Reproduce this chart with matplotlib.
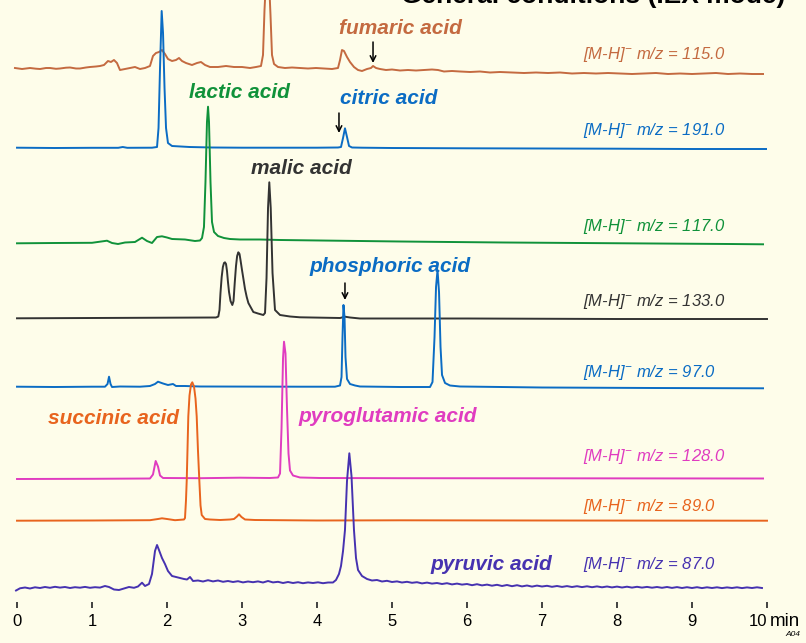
import matplotlib
matplotlib.use("Agg")
import matplotlib.pyplot as plt
import numpy as np

# ---- chromatogram traces (time in min, signal in arbitrary units above baseline)
fumaric_t = [-0.027, 0.067, 0.173, 0.253, 0.307, 0.387, 0.44, 0.52, 0.573, 0.653, 0.707, 0.787, 0.84, 0.92,
             0.973, 1.053, 1.107, 1.16, 1.213, 1.253, 1.293, 1.333, 1.373, 1.44, 1.507, 1.573, 1.64, 1.707,
             1.773, 1.813, 1.853, 1.893, 1.933, 1.973, 2.013, 2.067, 2.12, 2.16, 2.2, 2.253, 2.333, 2.4, 2.453,
             2.507, 2.573, 2.68, 2.787, 2.893, 3.0, 3.107, 3.187, 3.253, 3.28, 3.3, 3.32, 3.36, 3.38, 3.4,
             3.427, 3.48, 3.573, 3.667, 3.773, 3.88, 3.987, 4.093, 4.2, 4.28, 4.307, 4.333, 4.36, 4.4, 4.44,
             4.493, 4.547, 4.6, 4.667, 4.72, 4.747, 4.787, 4.84, 4.92, 5.0, 5.107, 5.213, 5.32, 5.427, 5.533,
             5.613, 5.693, 5.8, 5.907, 6.04, 6.173, 6.307, 6.44, 6.6, 6.76, 6.92, 7.08, 7.24, 7.4, 7.56, 7.72,
             7.88, 8.04, 8.2, 8.36, 8.52, 8.68, 8.84, 9.0, 9.16, 9.32, 9.48, 9.64, 9.8, 9.947]
fumaric_i = [2, 1, 2, 1.3, 1, 2, 2, 1.2, 1.5, 2.3, 2.5, 1.5, 1.5, 2.5,
             3, 3.5, 4, 5, 9, 8, 10, 7, 0, 1, 2, 3, 1, 2,
             4, 14, 17, 18, 20, 16, 11, 9, 10, 12, 9, 7, 5, 7, 8,
             5, 3, 3, 4, 3, 3, 2, 3, 4, 15, 60, 90, 90, 55, 15,
             6, 3, 2, 2.5, 2, 1.5, 2, 1.5, 1, 2, 10, 20, 19, 13, 8,
             3, 0, -1, 1, 2, 4, 2, 1, 0, 0.5, -0.5, 0, -0.5, 0, 0.5,
             0, -1.5, -1, -1.5, -2, -1.5, -2.5, -2, -2.5, -3, -2.5, -3, -2.5, -3.5, -3, -3.5,
             -3, -3.5, -4, -3.5, -3, -4, -3.5, -4, -3.5, -3, -4, -3.5, -4, -4]

citric_t = [0.0, 0.5, 1.0, 1.35, 1.41, 1.47, 1.8, 1.867, 1.887, 1.907, 1.929, 1.947, 1.967, 1.987, 2.013,
            2.067, 2.3, 2.6, 3.0, 3.5, 4.0, 4.28, 4.32, 4.347, 4.373, 4.4, 4.427, 4.467, 4.6, 5.0, 6.0, 7.0,
            8.0, 9.0, 9.987]
citric_i = [0.3, 0, 0.2, 0.2, 1, 0.2, 0.3, 1, 20, 80, 137, 115, 60, 20, 5,
            2, 1, 0.5, 0.3, 0.3, 0.3, 0.5, 1, 10, 19.7, 11, 2, 0.5, 0.3, 0, -0.3, -0.5,
            -0.7, -1, -1]

lactic_t = [0.0, 0.5, 1.0, 1.2, 1.267, 1.347, 1.44, 1.573, 1.667, 1.733, 1.8, 1.867, 1.933, 2.0, 2.067,
            2.24, 2.373, 2.44, 2.467, 2.493, 2.513, 2.533, 2.547, 2.56, 2.58, 2.6, 2.627, 2.68, 2.76,
            2.84, 2.973, 3.24, 3.507, 4.04, 4.573, 5.107, 5.5, 6.5, 7.5, 8.5, 9.5, 9.947]
lactic_i = [-1.3, -1, -0.8, 1.3, -1, -2, -0.5, 0, 4.3, 1, -1, 5, 5.7, 4.5, 3,
            2.5, 1, 1.5, 4, 15, 60, 120, 135.3, 120, 60, 20, 10, 6, 4,
            3, 2.5, 2.5, 2, 1.5, 1, 0.5, 0.2, -0.5, -1, -1.5, -2, -2.3]

malic_t = [0.0, 1.0, 2.0, 2.653, 2.684, 2.7, 2.713, 2.729, 2.745, 2.76, 2.773, 2.787, 2.8, 2.813, 2.827,
           2.847, 2.871, 2.887, 2.903, 2.92, 2.935, 2.951, 2.967, 2.98, 3.0, 3.017, 3.04, 3.063, 3.085,
           3.107, 3.151, 3.213, 3.284, 3.307, 3.327, 3.347, 3.364, 3.383, 3.407, 3.44, 3.507, 3.64,
           3.773, 4.307, 4.373, 4.44, 4.573, 6.0, 8.0, 10.0]
malic_i = [-0.3, 0, 0.3, 0.5, 1.5, 8, 25, 41, 51, 55, 55.7, 54, 47, 36, 26,
           17, 13, 17, 35, 52, 62, 65.7, 64, 58, 48, 40, 29, 21, 15,
           12, 6, 4.5, 3, 5, 40, 110, 135.7, 110, 45, 8, 3, 1.5,
           0.7, 0, 1.3, 0.5, -0.5, -0.5, -1, -1]

phosphoric_t = [0.0, 0.5, 1.0, 1.173, 1.207, 1.227, 1.247, 1.267, 1.373, 1.64, 1.773, 1.84, 1.88, 1.947,
                2.013, 2.08, 2.12, 2.24, 2.44, 3.773, 4.24, 4.307, 4.327, 4.34, 4.353, 4.367, 4.38, 4.4,
                4.44, 4.507, 4.573, 5.107, 5.507, 5.54, 5.567, 5.587, 5.607, 5.627, 5.647, 5.667, 5.707,
                5.773, 5.907, 7.0, 8.5, 9.947]
phosphoric_i = [0.3, 0, 0.3, 0.3, 3, 10.3, 3, 0, 0.5, 0.3, 1, 3, 5.3, 3.5,
                2, 3, 1, 1, 0.5, 0.3, 0.3, 1.5, 10, 50, 82, 70, 30, 8,
                3, 1.5, 0.5, 0, 0, 5, 50, 100, 117, 95, 40, 12, 4,
                1.5, 0.5, -0.5, -1, -1.3]

pyroglutamic_t = [0.0, 1.0, 1.773, 1.813, 1.849, 1.88, 1.907, 1.947, 2.44, 2.973, 3.373, 3.48, 3.507, 3.527,
                  3.547, 3.56, 3.58, 3.6, 3.62, 3.64, 3.68, 3.773, 4.04, 5.107, 7.0, 9.947]
pyroglutamic_i = [-0.5, -0.3, 0, 4, 17.5, 12, 3, 0.5, 0.3, 0.8, 0.5, 1, 5, 50,
                  120, 136.8, 125, 70, 25, 8, 3, 1, 0.5, 0.3, 0.2, 0]

succinic_t = [0.0, 1.0, 1.773, 1.88, 1.933, 2.0, 2.107, 2.227, 2.24, 2.253, 2.263, 2.273, 2.284, 2.3, 2.32,
              2.337, 2.36, 2.38, 2.396, 2.413, 2.431, 2.447, 2.463, 2.507, 2.573, 2.707, 2.84, 2.893,
              2.933, 2.96, 2.993, 3.04, 3.173, 4.0, 5.107, 7.0, 10.0]
succinic_i = [-0.2, 0, 0.3, 1.5, 2.2, 1.5, 0.3, 1, 2.5, 20, 40, 70, 104, 125, 136,
              138.2, 134, 122, 104, 70, 40, 15, 5.5, 1.5, 1, 0.5, 1, 1.5,
              4, 6.2, 3.5, 1, 0.5, 0, 0.2, 0, -0.2]

pyruvic_t = [-0.013, 0.04, 0.107, 0.173, 0.24, 0.307, 0.373, 0.44, 0.507, 0.573, 0.64, 0.707, 0.773, 0.84,
             0.907, 0.973, 1.04, 1.107, 1.173, 1.227, 1.293, 1.36, 1.427, 1.493, 1.56, 1.613, 1.667,
             1.707, 1.76, 1.8, 1.84, 1.867, 1.893, 1.933, 1.973, 2.013, 2.067, 2.12, 2.173, 2.227, 2.267,
             2.307, 2.347, 2.413, 2.48, 2.547, 2.613, 2.68, 2.747, 2.813, 2.88, 2.947, 3.013, 3.08, 3.147,
             3.213, 3.28, 3.347, 3.413, 3.48, 3.547, 3.613, 3.68, 3.747, 3.813, 3.88, 3.947, 4.013, 4.08,
             4.147, 4.213, 4.253, 4.293, 4.32, 4.347, 4.373, 4.4, 4.431, 4.46, 4.493, 4.52, 4.547, 4.6,
             4.667, 4.733, 4.8, 4.867, 4.933, 5.0, 5.067, 5.133, 5.2, 5.267, 5.333, 5.4, 5.467, 5.533,
             5.6, 5.667, 5.733, 5.8, 5.867, 5.933, 6.0, 6.067, 6.133, 6.2, 6.267, 6.333, 6.4, 6.467,
             6.533, 6.6, 6.667, 6.733, 6.8, 6.867, 6.933, 7.0, 7.067, 7.133, 7.2, 7.267, 7.333, 7.4,
             7.467, 7.533, 7.6, 7.667, 7.733, 7.8, 7.867, 7.933, 8.0, 8.067, 8.133, 8.2, 8.267, 8.333,
             8.4, 8.467, 8.533, 8.6, 8.667, 8.733, 8.8, 8.867, 8.933, 9.0, 9.067, 9.133, 9.2, 9.267,
             9.333, 9.4, 9.467, 9.533, 9.6, 9.667, 9.733, 9.8, 9.867, 9.933]
pyruvic_i = [-4.5, -2.3, -1.5, -2.5, -1.3, -2, -1, -1.8, -0.8, -1.6, -1, -2, -1.2, -1.7,
             -0.9, -1.8, -1.2, -1.6, 0, -1, -3.5, -4, -2.5, -1, -1.8, -0.5, 3.3,
             0, 2, 12, 35, 41, 36, 28, 22, 15, 10, 9, 8, 7, 6.5,
             9, 5, 5.5, 4.5, 5.8, 4.6, 5.5, 4.2, 5, 4, 4.8, 3.6, 4.5, 3.8,
             4.6, 3.5, 5, 3.6, 4.2, 3, 4, 3, 3.8, 2.8, 3.6, 3, 3.7, 2.8,
             3.5, 3.5, 6, 12, 20, 35, 56, 105, 132.7, 110, 56, 28, 16, 10,
             7, 5.5, 6, 4.5, 5.2, 4, 4.6, 3.5, 4.2, 3.2, 3.8, 2.6, 3.4, 2.4,
             3, 2, 2.8, 1.6, 2.4, 1.4, 2, 0.8, 1.8, 0.6, 1.4, 0.3, 1.2, 0,
             1, -0.2, 0.8, -0.4, 0.5, -0.6, 0.4, -0.5, 0.2, -0.8, 0, -0.9, -0.1, -1,
             -0.2, -1.1, -0.3, -1.2, -0.4, -1.3, -0.5, -1.4, -0.6, -1.5, -0.7, -1.6, -0.8, -1.6,
             -0.9, -1.7, -1, -1.8, -1, -1.9, -1.1, -2, -1.2, -2, -1.2, -2.1, -1.3, -2,
             -1.3, -2.1, -1.4, -2, -1.3, -2.1, -1.4, -2, -1.3, -2]

compounds = ["fumaric acid", "citric acid", "lactic acid", "malic acid",
             "phosphoric acid", "pyroglutamic acid", "succinic acid", "pyruvic acid"]
mz_values = ["115.0", "191.0", "117.0", "133.0", "97.0", "128.0", "89.0", "87.0"]
x_ticks = [0, 1, 2, 3, 4, 5, 6, 7, 8, 9, 10]

times = [fumaric_t, citric_t, lactic_t, malic_t, phosphoric_t, pyroglutamic_t, succinic_t, pyruvic_t]
signals = [fumaric_i, citric_i, lactic_i, malic_i, phosphoric_i, pyroglutamic_i, succinic_i, pyruvic_i]

# layout (pixel rows of figure) and styles
colors = ["#C46A40", "#0B6CC4", "#10923A", "#333333", "#0B6CC4", "#E03CC0", "#E8641E", "#4632B0"]
baselines = [70, 148, 242, 318, 387, 478.5, 520.5, 586]
mz_y = [55, 130, 226.5, 301.5, 373, 457, 507, 565]
name_pos = [(5.107, 28), (4.953, 99), (2.967, 93), (3.793, 168),
            (4.967, 266), (4.947, 417), (1.287, 418), (6.327, 564)]
arrows = [(4.747, 42, 63), (4.293, 113, 133), (4.373, 283, 300)]

W, H = 806, 643
bg = "#FEFDEA"
fig = plt.figure(figsize=(W / 100, H / 100), dpi=100, facecolor=bg)
ax = fig.add_axes([17 / W, 41 / H, 750 / W, 602 / H])
ax.set_facecolor(bg)
ax.set_xlim(0, 10)
ax.set_ylim(602, 0)
for s in ax.spines.values():
    s.set_visible(False)
ax.set_yticks([])
ax.set_xticks(x_ticks)
ax.tick_params(axis="x", direction="out", length=4, width=1.3, color="#333333",
               labelsize=12, pad=5, labelcolor="black")
for lab in ax.get_xticklabels():
    lab.set_fontfamily("Liberation Sans")
# the "10" label sits left of its tick, to leave room for the unit
ax.get_xticklabels()[-1].set_horizontalalignment("right")

for t, sig, base, c in zip(times, signals, baselines, colors):
    ax.plot(t, base - np.asarray(sig), color=c, lw=1.4, clip_on=False, solid_joinstyle="round")

for name, (nx, ny), c in zip(compounds, name_pos, colors):
    ax.text(nx, ny, name, color=c, fontsize=15, fontweight="bold", fontstyle="italic",
            family="Liberation Sans", ha="center", va="center", clip_on=False)

for mz, my, c in zip(mz_values, mz_y, colors):
    ax.text(7.547, my, r"[M-H]$^{\mathregular{-}}$ m/z = " + mz, color=c, fontsize=12,
            fontstyle="italic", family="Liberation Sans", ha="left", va="center", clip_on=False)

for ax_t, y0, y1 in arrows:
    ax.annotate("", xy=(ax_t, y1), xytext=(ax_t, y0),
                arrowprops=dict(arrowstyle="->", color="black", lw=1.1, shrinkA=0, shrinkB=0))

ax.text(10.24, 3.5, "General conditions (IEX mode)", fontsize=19, fontweight="bold",
        family="Liberation Sans", ha="right", va="baseline", clip_on=False)
ax.text(10.04, 621, "min", fontsize=13.5, family="Liberation Sans", ha="left", va="center", clip_on=False)
ax.text(10.347, 634, "A04", fontsize=6, fontstyle="italic", family="Liberation Sans",
        ha="center", va="center", clip_on=False)

fig.savefig("out.png", dpi=100, facecolor=bg)
